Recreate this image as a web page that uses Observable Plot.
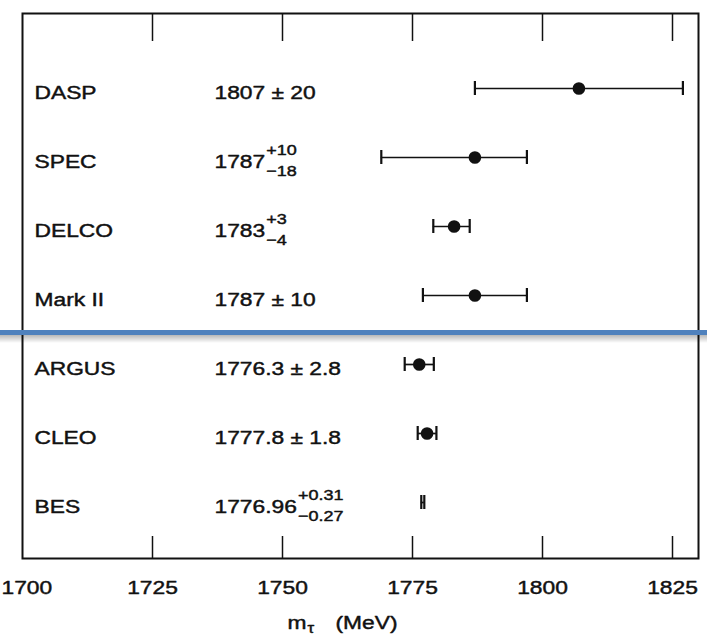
<!DOCTYPE html>
<html>
<head>
<meta charset="utf-8">
<script src="https://cdn.jsdelivr.net/npm/d3@7"></script>
<script src="https://cdn.jsdelivr.net/npm/@observablehq/plot@0.6"></script>
<style>
  html, body { margin: 0; padding: 0; background: #fff; }
  #chart svg { display: block; }
</style>
</head>
<body>
<div id="chart"></div>
<script>
// ---- data ----
const names = ["DASP", "SPEC", "DELCO", "Mark II", "ARGUS", "CLEO", "BES"];
const mass = [1807, 1787, 1783, 1787, 1776.3, 1777.8, 1776.96];
const errPlus = [20, 10, 3, 10, 2.8, 1.8, 0.31];
const errMinus = [20, 18, 4, 10, 2.8, 1.8, 0.27];
const valueLabels = ["1807 ± 20", "1787", "1783", "1787 ± 10", "1776.3 ± 2.8", "1777.8 ± 1.8", "1776.96"];
const supLabels = ["", "+10", "+3", "", "", "", "+0.31"];
const subLabels = ["", "\u221218", "\u22124", "", "", "", "\u22120.27"];
const xTicks = [1700, 1725, 1750, 1775, 1800, 1825];
const xDomain = [1700, 1830];
const noMarker = ["BES"];

// ---- layout ----
const W = 707, H = 637, mL = 22, mR = 9, mT = 13, mB = 79;
const innerH = H - mT - mB;
const FONT = "'Liberation Sans', Arial, Helvetica, sans-serif";
const SX = 1.2;           // horizontal stretch of the scanned lettering
const mainSize = 19, smallSize = 15;
const INK = "#111";
const textStyle = {fill: INK, stroke: INK, strokeWidth: 0.45};

const rows = names.map((name, i) => ({
  name, mass: mass[i], lo: mass[i] - errMinus[i], hi: mass[i] + errPlus[i],
  value: valueLabels[i], sup: supLabels[i], sub: subLabels[i]
}));

const ctx = document.createElement("canvas").getContext("2d");
function textWidth(s, size) {
  ctx.font = `${size}px 'Liberation Sans', Arial, sans-serif`;
  return ctx.measureText(s).width * SX;
}

const nameDx = 12, valueDx = 192, rowDy = 10;

const scriptMarks = rows.filter(r => r.sup).flatMap(r => {
  const dx = valueDx + textWidth(r.value, mainSize) + 1;
  return [
    Plot.text([r], {y: "name", text: "sup", frameAnchor: "left", textAnchor: "start", lineAnchor: "bottom",
                    dx, dy: rowDy - 13, fontSize: smallSize, ...textStyle}),
    Plot.text([r], {y: "name", text: "sub", frameAnchor: "left", textAnchor: "start", lineAnchor: "bottom",
                    dx, dy: rowDy + 8, fontSize: smallSize, ...textStyle})
  ];
});

const mW = textWidth("m", mainSize);

const plot = Plot.plot({
  width: W, height: H,
  marginLeft: mL, marginRight: mR, marginTop: mT, marginBottom: mB,
  style: {fontFamily: FONT, fontSize: mainSize + "px", background: "#fff", color: INK},
  x: {domain: xDomain, axis: null},
  y: {type: "point", domain: names, axis: null, padding: 0, insetTop: 75, insetBottom: 56},
  marks: [
    Plot.frame({stroke: INK, strokeWidth: 2}),
    // inward ticks, bottom and top
    Plot.ruleX(xTicks.filter(v => v > xDomain[0]), {x: d => d, insetTop: innerH - 22, stroke: INK, strokeWidth: 1.5}),
    Plot.ruleX(xTicks.filter(v => v > xDomain[0]), {x: d => d, insetBottom: innerH - 28, stroke: INK, strokeWidth: 1.5}),
    // tick labels (the one at the left edge is kept inside the page)
    Plot.text(xTicks.filter(v => v > xDomain[0]), {x: d => d, text: d => String(d), frameAnchor: "bottom", lineAnchor: "bottom", dy: 35, fontSize: mainSize, ...textStyle}),
    Plot.text(xTicks.filter(v => v === xDomain[0]), {text: d => String(d), frameAnchor: "bottom-left", textAnchor: "start", lineAnchor: "bottom", dx: 1 - mL, dy: 35, fontSize: mainSize, ...textStyle}),
    // axis title m_tau (MeV)
    Plot.text(["m"], {text: d => d, frameAnchor: "bottom-left", textAnchor: "start", lineAnchor: "bottom", dx: 265, dy: 70, fontSize: mainSize, ...textStyle}),
    Plot.text(["\u03c4"], {text: d => d, frameAnchor: "bottom-left", textAnchor: "start", lineAnchor: "bottom", dx: 265 + mW + 1, dy: 74, fontSize: 14, ...textStyle}),
    Plot.text(["(MeV)"], {text: d => d, frameAnchor: "bottom-left", textAnchor: "start", lineAnchor: "bottom", dx: 313, dy: 70, fontSize: mainSize, ...textStyle}),
    // error bars
    Plot.ruleY(rows, {y: "name", x1: "lo", x2: "hi", stroke: INK, strokeWidth: 1.7}),
    Plot.ruleX(rows, {x: "lo", y1: "name", y2: "name", insetTop: -7, insetBottom: -7, stroke: INK, strokeWidth: 2.2}),
    Plot.ruleX(rows, {x: "hi", y1: "name", y2: "name", insetTop: -7, insetBottom: -7, stroke: INK, strokeWidth: 2.2}),
    Plot.dot(rows.filter(r => !noMarker.includes(r.name)), {x: "mass", y: "name", r: 6.3, fill: INK, stroke: "none"}),
    // row labels
    Plot.text(rows, {y: "name", text: "name", frameAnchor: "left", textAnchor: "start", lineAnchor: "bottom", dx: nameDx, dy: rowDy, fontSize: mainSize, ...textStyle}),
    Plot.text(rows, {y: "name", text: "value", frameAnchor: "left", textAnchor: "start", lineAnchor: "bottom", dx: valueDx, dy: rowDy, fontSize: mainSize, ...textStyle}),
    ...scriptMarks
  ]
});

// stretch lettering horizontally like the scanned original
plot.querySelectorAll("text").forEach(t => {
  const tr = t.getAttribute("transform");
  if (tr) t.setAttribute("transform", tr + ` scale(${SX},1)`);
});

// blue separator between the older and newer measurements
const ys = plot.scale("y");
const yMid = (ys.apply("Mark II") + ys.apply("ARGUS")) / 2 + 3;
const svg = d3.select(plot);
const defs = svg.append("defs");
const g = defs.append("linearGradient").attr("id", "sepShadow").attr("x1", 0).attr("y1", 0).attr("x2", 0).attr("y2", 1);
g.append("stop").attr("offset", "0%").attr("stop-color", "#000").attr("stop-opacity", 0.28);
g.append("stop").attr("offset", "100%").attr("stop-color", "#000").attr("stop-opacity", 0);
svg.append("rect").attr("x", 0).attr("width", W).attr("y", yMid + 2.5).attr("height", 8).attr("fill", "url(#sepShadow)");
svg.append("rect").attr("x", 0).attr("width", W).attr("y", yMid - 2.5).attr("height", 5).attr("fill", "#4f81bd");

document.getElementById("chart").append(plot);
</script>
</body>
</html>
